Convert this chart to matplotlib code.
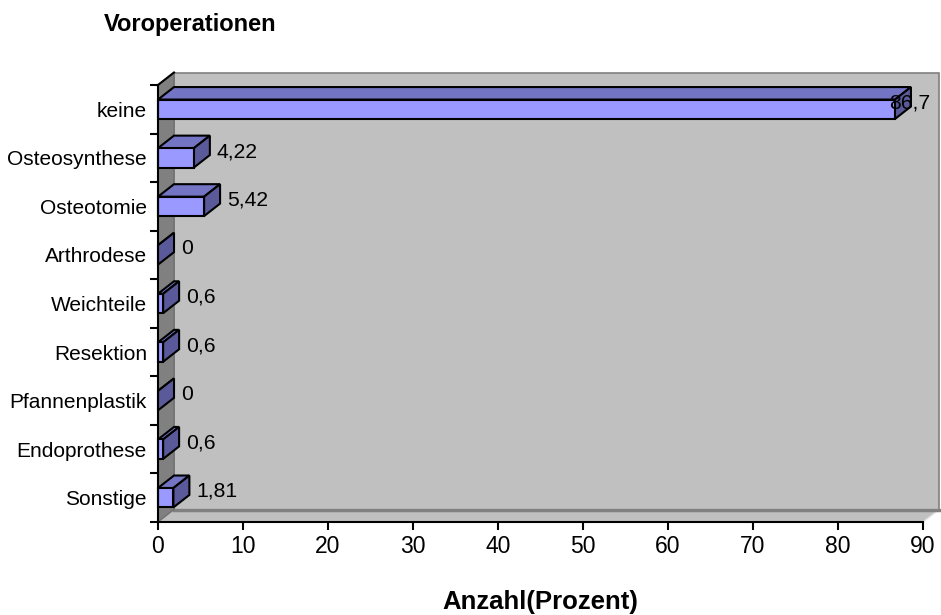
import matplotlib.pyplot as plt
from matplotlib.patches import Polygon, Rectangle

plt.rcParams['font.family'] = ['Liberation Sans', 'DejaVu Sans']

categories = ["keine", "Osteosynthese", "Osteotomie", "Arthrodese", "Weichteile",
              "Resektion", "Pfannenplastik", "Endoprothese", "Sonstige"]
values = [86.7, 4.22, 5.42, 0, 0.6, 0.6, 0, 0.6, 1.81]
value_labels = ["86,7", "4,22", "5,42", "0", "0,6", "0,6", "0", "0,6", "1,81"]
xticks = [0, 10, 20, 30, 40, 50, 60, 70, 80, 90]

W, H = 941, 615
fig = plt.figure(figsize=(W / 100, H / 100), dpi=100)
# axes = front plane of the 3d chart, pixel box
left, right, top, bottom = 158, 923, 85, 522
ax = fig.add_axes([left / W, 1 - bottom / H, (right - left) / W, (bottom - top) / H])
ax.patch.set_visible(False)

n = len(categories)
xmax = 90
ax.set_xlim(0, xmax)
ax.set_ylim(-0.5, n - 0.5)

# depth offset in data units (about 16 px right, 12.5 px up)
sx = (right - left) / xmax
sy = (bottom - top) / n
dx = 16 / sx
dy = 12.5 / sy

y0, y1 = -0.5, n - 0.5
wall = '#C0C0C0'
side_wall = '#808080'
# back wall
ax.add_patch(Polygon([(dx, y0 + dy), (xmax + dx, y0 + dy), (xmax + dx, y1 + dy), (dx, y1 + dy)],
                     closed=True, fc=wall, ec='#808080', lw=1.2, clip_on=False, zorder=0))
# floor
ax.add_patch(Polygon([(0, y0), (xmax, y0), (xmax + dx, y0 + dy), (dx, y0 + dy)],
                     closed=True, fc=wall, ec='#E0E0E0', lw=1.0, clip_on=False, zorder=0.5))
ax.plot([dx, xmax + dx], [y0 + dy, y0 + dy], color='#808080', lw=2.5, clip_on=False, zorder=0.6)
# left side wall
ax.add_patch(Polygon([(0, y0), (0, y1), (dx, y1 + dy), (dx, y0 + dy)],
                     closed=True, fc=side_wall, ec='#707070', lw=1.0, clip_on=False, zorder=0.7))
ax.plot([0, dx], [y1, y1 + dy], color='black', lw=1.5, clip_on=False, zorder=0.8)

face = '#9999FF'
topc = '#7474C4'
sidec = '#5A5A9A'
h = 0.4
ypos = [n - 1 - i for i in range(n)]
for y, v, lab in zip(ypos, values, value_labels):
    yb, yt = y - h / 2, y + h / 2
    ax.add_patch(Polygon([(0, yt), (v, yt), (v + dx, yt + dy), (dx, yt + dy)],
                         closed=True, fc=topc, ec='black', lw=1.5, clip_on=False, zorder=3))
    ax.add_patch(Polygon([(v, yb), (v, yt), (v + dx, yt + dy), (v + dx, yb + dy)],
                         closed=True, fc=sidec, ec='black', lw=1.5, clip_on=False, zorder=3))
    if v > 0:
        ax.add_patch(Rectangle((0, yb), v, h, fc=face, ec='black', lw=1.5, clip_on=False, zorder=4))
    lx = min(v + dx + 7 / sx, 86.0)
    ax.text(lx, y + dy / 2, lab, ha='left', va='center', fontsize=15.2, zorder=5)

for s in ['top', 'right']:
    ax.spines[s].set_visible(False)
for s in ['left', 'bottom']:
    ax.spines[s].set_linewidth(1.5)
    ax.spines[s].set_zorder(6)

ax.set_xticks(xticks)
ax.set_xticklabels([str(t) for t in xticks], fontsize=16.5)
ax.tick_params(axis='x', direction='out', length=6, width=1.5, pad=3.5)

ax.set_yticks(ypos)
ax.set_yticklabels(categories, fontsize=15)
ax.set_yticks([k - 0.5 for k in range(n + 1)], minor=True)
ax.tick_params(axis='y', which='major', length=0, pad=8)
ax.tick_params(axis='y', which='minor', direction='out', length=6, width=1.5)

fig.text(104 / W, 1 - 24 / H, "Voroperationen", fontsize=17, fontweight='bold',
         ha='left', va='center')
fig.text(540 / W, 1 - 602 / H, "Anzahl(Prozent)", fontsize=18.5, fontweight='bold',
         ha='center', va='center')

fig.savefig("out.png", dpi=100, facecolor='white')
